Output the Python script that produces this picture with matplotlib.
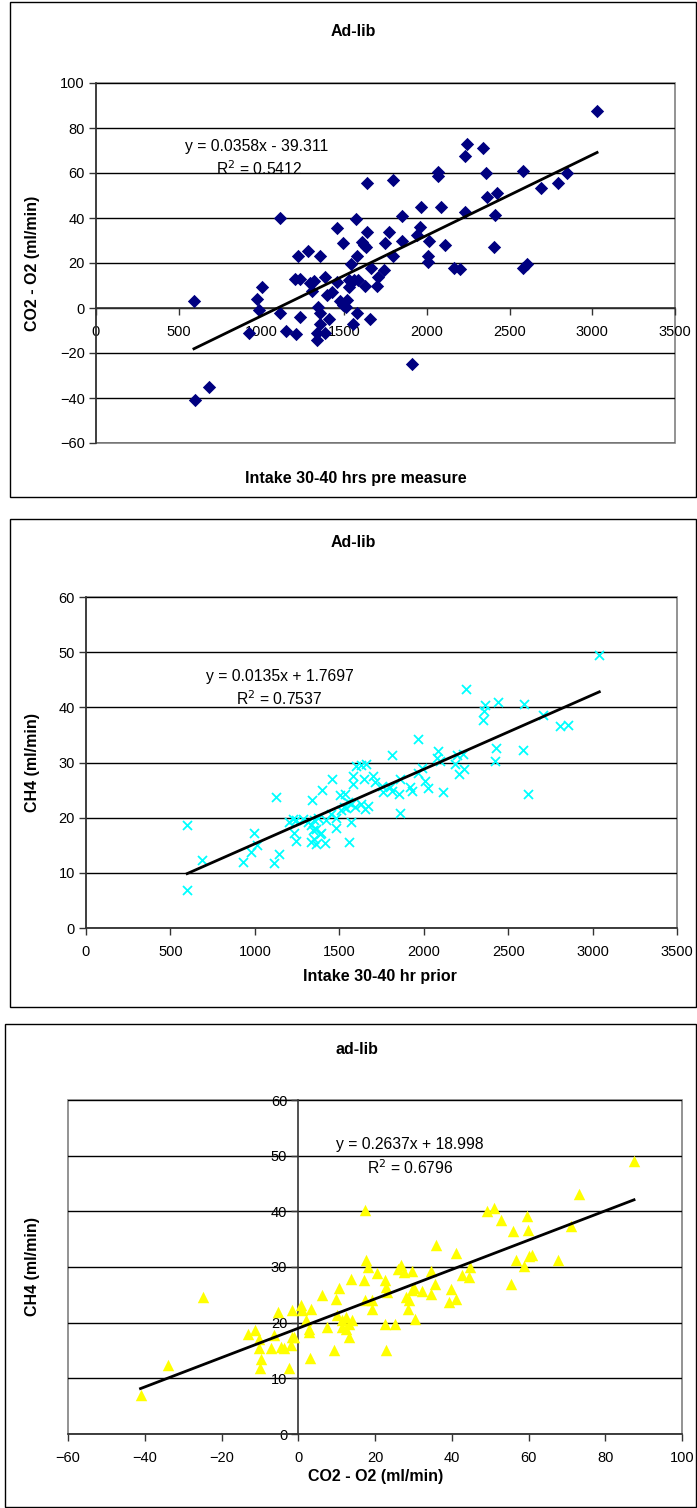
import matplotlib
matplotlib.use("Agg")
import matplotlib.pyplot as plt
from matplotlib.patches import Rectangle
import numpy as np

plt.rcParams['font.family'] = ['Liberation Sans', 'DejaVu Sans']

# ---------------- data ----------------
# Panel 1: intake (g) vs CO2 - O2 (ml/min)
intake_p1 = [592, 599, 683, 925, 973, 985, 1004, 1112, 1112, 1149, 1209, 1233, 1203, 1233,
             1221, 1282, 1354, 1294, 1318, 1306, 1342, 1354, 1354, 1336, 1336, 1385, 1409,
             1385, 1397, 1427, 1457, 1457, 1494, 1475, 1494, 1518, 1512, 1530, 1530, 1554,
             1578, 1560, 1585, 1627, 1657, 1699, 1706, 1742, 1542, 1578, 1663, 1572, 1638,
             1640, 1605, 1620, 1630, 1747, 1771, 1795, 1796, 1850, 1850, 1959, 1940, 1965,
             2013, 2086, 2110, 2007, 2007, 2165, 2200, 2068, 2068, 2231, 2243, 2340, 2358,
             2363, 2424, 2412, 2406, 2231, 2582, 2582, 2606, 2690, 2793, 2848, 3029, 1910]
co2o2_p1 = [3, -41, -35, -11, 4, -1, 9.5, 40, -2, -10, -11.5, -4, 13, 13,
            23, 25.5, 23, 11, 12, 7.5, 0.5, -2, -7, -11, -14, -11, -5,
            14, 6, 7, 11.5, 35.5, 29, 3, 1.5, 3.5, 0.5, 12.5, 9.5, -7,
            -2, 12.5, 12.5, 10, -5, 10, 14, 17, 19.5, 23, 18, 39.5, 55.5,
            34, 29.5, 28, 27, 29, 34, 57, 23, 41, 30, 36, 32.5, 45,
            30, 45, 28, 23, 20.5, 18, 17.5, 60.5, 58.5, 67.5, 73, 71, 60,
            49.5, 51, 41.5, 27, 42.5, 61, 18, 19.5, 53.5, 55.5, 60, 87.5, -25]
fit1 = (0.0358, -39.311)
eq1 = ["y = 0.0358x - 39.311", "R$^2$ = 0.5412"]

# Panel 2: intake vs CH4 (ml/min)
intake_p2 = [599, 599, 689, 927, 980, 992, 1012, 1111, 1145, 1125,
             1204, 1224, 1244, 1234, 1244, 1284, 1313, 1333, 1353, 1373,
             1343, 1363, 1383, 1393, 1333, 1353, 1363, 1413, 1337, 1397, 1456,
             1423, 1452, 1482, 1482, 1502, 1532, 1552, 1512, 1528, 1542, 1571, 1591,
             1567, 1556, 1581, 1581, 1601, 1631, 1661, 1631, 1651, 1671,
             1647, 1700, 1710, 1750, 1760, 1799, 1810, 1810, 1853, 1859, 1859, 1919, 1932,
             1968, 1964, 1988, 2006, 2024, 2083, 2077, 2095, 2117,
             2196, 2230, 2183, 2236, 2208, 2250, 2363, 2355, 2351, 2440, 2595, 2706,
             2429, 2421, 2587, 2615, 2806, 2857, 3040]
ch4_p2 = [18.7, 6.8, 12.4, 11.9, 13.7, 17.3, 15.0, 11.7, 13.4, 23.8,
          19.2, 19.8, 19.5, 17.3, 15.7, 19.7, 19.2, 18.6, 19.5, 20.0,
          17.7, 18.0, 17.1, 17.3, 15.5, 16.2, 15.3, 15.4, 23.2, 25.0, 27.0,
          19.5, 20.7, 20.0, 18.2, 24.1, 24.3, 22.8, 21.3, 22.0, 21.7, 22.5, 21.9,
          19.2, 15.5, 26.1, 27.6, 29.4, 29.5, 29.7, 22.5, 21.6, 22.2,
          27.0, 27.6, 26.4, 25.8, 24.6, 25.5, 24.9, 31.4, 24.3, 20.8, 27.0, 25.5, 24.9,
          34.2, 28.1, 29.0, 26.7, 25.4, 32.1, 30.8, 30.3, 24.7,
          31.4, 31.5, 29.8, 28.8, 27.9, 43.4, 40.4, 39.3, 37.7, 40.9, 40.6, 38.7,
          32.6, 30.3, 32.3, 24.3, 36.6, 36.8, 49.4]
fit2 = (0.0135, 1.7697)
eq2 = ["y = 0.0135x + 1.7697", "R$^2$ = 0.7537"]

# Panel 3: CO2 - O2 vs CH4
co2o2_p3 = [-41.1, -34.0, -24.7, -13.2, -11.4, -10.1, -10.1, -9.7, -9.9, -7.1, -6.2, -5.4,
            -4.5, -3.6, -2.3, -1.9, -1.5, -1.0, -1.7, 0.7, 1.0, 3.3, 2.0, 2.7, 2.9, 3.0,
            6.3, 7.6, 10.5, 9.8, 9.4, 10.2, 11.5, 12.4, 13.2, 14.1, 11.5, 12.4, 13.2,
            13.7, 17.4, 17.6, 18.3, 17.1, 17.4, 19.3, 19.3, 20.6, 22.6, 22.8, 23.2, 22.6,
            22.9, 25.2, 26.0, 26.7, 27.5, 29.7, 28.0, 28.8, 28.7, 30.4, 30.1, 29.7, 32.3,
            34.5, 35.6, 34.5, 39.7, 39.2, 41.2, 44.8, 44.6, 42.7, 35.8, 41.1,
            49.2, 50.9, 52.8, 59.7, 59.8, 55.9, 71.2, 67.8, 56.8, 60.0, 60.9, 58.7, 55.5,
            73.2, 87.5]
ch4_p3 = [7.0, 12.4, 24.7, 18.0, 18.6, 17.1, 15.4, 13.4, 11.8, 15.4, 17.7, 21.9,
          15.6, 15.5, 11.8, 16.0, 17.4, 17.4, 22.3, 23.1, 22.2, 22.5, 20.4, 18.3, 18.9, 13.6,
          24.9, 19.2, 26.3, 24.3, 15.1, 21.3, 20.4, 21.0, 19.8, 20.4, 19.2, 18.9, 17.4,
          27.9, 40.3, 31.2, 30.0, 27.6, 24.0, 22.5, 24.0, 28.9, 27.6, 26.4, 25.5, 19.7,
          15.1, 19.7, 29.7, 30.3, 29.1, 29.3, 24.6, 24.1, 22.5, 20.6, 26.3, 25.8, 25.7,
          29.3, 27.0, 25.2, 26.1, 23.7, 24.3, 30.0, 28.2, 28.6, 34.0, 32.5,
          40.1, 40.6, 38.4, 39.1, 36.6, 36.4, 37.3, 31.3, 31.2, 31.9, 32.1, 30.1, 26.9,
          43.2, 49.1]
fit3 = (0.2637, 18.998)
eq3 = ["y = 0.2637x + 18.998", "R$^2$ = 0.6796"]

# ---------------- layout ----------------
W, H = 697, 1508
fig = plt.figure(figsize=(W / 100, H / 100), dpi=100)


def fig_rect(l, t, r, b):
    return [l / W, 1 - b / H, (r - l) / W, (b - t) / H]


def frame(l, t, r, b):
    fig.patches.append(Rectangle((l / W, 1 - b / H), (r - l) / W, (b - t) / H,
                                 transform=fig.transFigure, fill=False,
                                 edgecolor='black', linewidth=1.0))


AXC = '#333333'
GRIDC = '#000000'
TICKFS = 10.5
LABFS = 11.5
EQFS = 11.3


def style(ax, yticks, xticks):
    ax.set_yticks(yticks)
    ax.set_xticks(xticks)
    for y in yticks:
        ax.axhline(y, color=GRIDC, lw=1.0, zorder=1)
    for s in ['top', 'right']:
        ax.spines[s].set_visible(False)
    ax.add_patch(Rectangle((0, 0), 1, 1, transform=ax.transAxes, fill=False,
                           edgecolor='#808080', lw=1.2, zorder=0.5, clip_on=False))
    for s in ['left', 'bottom']:
        ax.spines[s].set_color(AXC)
        ax.spines[s].set_linewidth(1.2)
        ax.spines[s].set_zorder(2)
    ax.tick_params(direction='out', length=5, width=1, color=AXC,
                   labelsize=TICKFS, labelcolor='black', pad=3)
    ax.tick_params(axis='x', pad=7)
    ax.set_facecolor('none')


def trend(ax, xs, fit):
    xx = np.array([min(xs), max(xs)])
    ax.plot(xx, fit[0] * xx + fit[1], color='black', lw=2, zorder=4)


# ---- panel 1 ----
frame(10, 2, 696, 497)
ax1 = fig.add_axes(fig_rect(96, 83, 675, 443))
ax1.set_xlim(0, 3500)
ax1.set_ylim(-60, 100)
style(ax1, list(range(-60, 101, 20)), list(range(0, 3501, 500)))
ax1.spines['bottom'].set_position(('data', 0))
ax1.scatter(intake_p1, co2o2_p1, marker='D', s=46, color='#000080', linewidths=0, zorder=3)
trend(ax1, intake_p1, fit1)
fig.text(257 / W, 1 - 146 / H, eq1[0], ha='center', va='center', fontsize=EQFS)
fig.text(259 / W, 1 - 169 / H, eq1[1], ha='center', va='center', fontsize=EQFS)
fig.text(353 / W, 1 - 31 / H, 'Ad-lib', ha='center', va='center', fontsize=11.5, fontweight='bold')
fig.text(356 / W, 1 - 478 / H, 'Intake 30-40 hrs pre measure', ha='center', va='center',
         fontsize=LABFS, fontweight='bold')
fig.text(33 / W, 1 - 263 / H, 'CO2 - O2 (ml/min)', ha='center', va='center', rotation=90,
         fontsize=LABFS, fontweight='bold')

# ---- panel 2 ----
frame(10, 519, 696, 1007)
ax2 = fig.add_axes(fig_rect(86, 597, 677, 928))
ax2.set_xlim(0, 3500)
ax2.set_ylim(0, 60)
style(ax2, list(range(0, 61, 10)), list(range(0, 3501, 500)))
ax2.scatter(intake_p2, ch4_p2, marker='x', s=42, color='#00FFFF', linewidths=1.3, zorder=3)
trend(ax2, intake_p2, fit2)
fig.text(280 / W, 1 - 677 / H, eq2[0], ha='center', va='center', fontsize=EQFS)
fig.text(279 / W, 1 - 699 / H, eq2[1], ha='center', va='center', fontsize=EQFS)
fig.text(353 / W, 1 - 543 / H, 'Ad-lib', ha='center', va='center', fontsize=11.5, fontweight='bold')
fig.text(380 / W, 1 - 977 / H, 'Intake 30-40 hr prior', ha='center', va='center',
         fontsize=LABFS, fontweight='bold')
fig.text(33 / W, 1 - 762 / H, 'CH4 (ml/min)', ha='center', va='center', rotation=90,
         fontsize=LABFS, fontweight='bold')

# ---- panel 3 ----
frame(5, 1024, 696, 1507)
ax3 = fig.add_axes(fig_rect(68, 1100, 682, 1434))
ax3.set_xlim(-60, 100)
ax3.set_ylim(0, 60)
style(ax3, list(range(0, 61, 10)), list(range(-60, 101, 20)))
ax3.spines['left'].set_position(('data', 0))
ax3.scatter(co2o2_p3, ch4_p3, marker='^', s=68, color='#FFFF00', linewidths=0, zorder=3)
trend(ax3, co2o2_p3, fit3)
fig.text(410 / W, 1 - 1145 / H, eq3[0], ha='center', va='center', fontsize=EQFS)
fig.text(410 / W, 1 - 1168 / H, eq3[1], ha='center', va='center', fontsize=EQFS)
fig.text(357 / W, 1 - 1050 / H, 'ad-lib', ha='center', va='center', fontsize=11.5, fontweight='bold')
fig.text(376 / W, 1 - 1477 / H, 'CO2 - O2 (ml/min)', ha='center', va='center',
         fontsize=LABFS, fontweight='bold')
fig.text(33 / W, 1 - 1266 / H, 'CH4 (ml/min)', ha='center', va='center', rotation=90,
         fontsize=LABFS, fontweight='bold')

fig.savefig('out.png', dpi=100, facecolor='white')
